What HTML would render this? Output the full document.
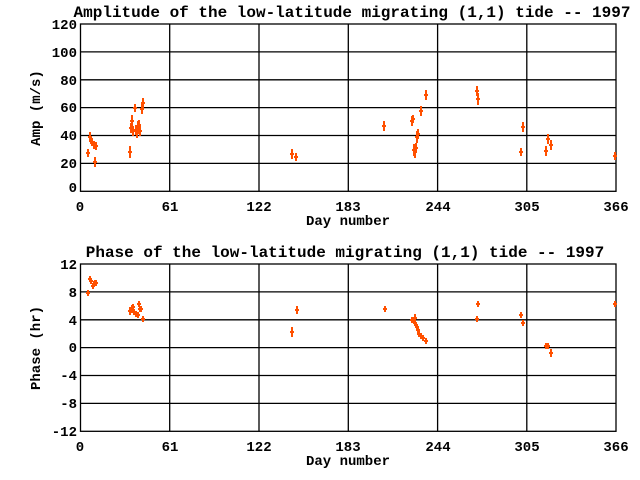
<!DOCTYPE html>
<html><head><style>body{margin:0;background:#fff}svg{display:block}text{font-family:"Liberation Mono",monospace;font-weight:bold;fill:#000}</style></head><body>
<svg width="640" height="480" xmlns="http://www.w3.org/2000/svg">
<g stroke="#000" stroke-width="1.3" fill="none">
<rect x="80.5" y="24" width="535.5" height="167.3"/>
<path d="M80.5 51.9H616M80.5 79.8H616M80.5 107.6H616M80.5 135.5H616M80.5 163.4H616M169.7 24V191.3M259 24V191.3M348.3 24V191.3M437.6 24V191.3M526.8 24V191.3"/>
<rect x="80.5" y="264" width="535.5" height="167.3"/>
<path d="M80.5 291.9H616M80.5 319.8H616M80.5 347.6H616M80.5 375.5H616M80.5 403.4H616M169.7 264V431.3M259 264V431.3M348.3 264V431.3M437.6 264V431.3M526.8 264V431.3"/>
</g>
<g font-size="16"><text x="352" y="17" text-anchor="middle">Amplitude of the low-latitude migrating (1,1) tide -- 1997</text>
<text x="345" y="257" text-anchor="middle">Phase of the low-latitude migrating (1,1) tide -- 1997</text></g>
<g font-size="14" text-anchor="end">
<text x="77" y="29">120</text><text x="77" y="57">100</text><text x="77" y="85">80</text><text x="77" y="112">60</text><text x="77" y="140">40</text><text x="77" y="168">20</text><text x="77" y="192">0</text>
<text x="77" y="269">12</text><text x="77" y="297">8</text><text x="77" y="325">4</text><text x="77" y="352">0</text><text x="77" y="380">-4</text><text x="77" y="408">-8</text><text x="77" y="436">-12</text>
</g>
<g font-size="14" text-anchor="middle">
<text x="80" y="211">0</text><text x="170" y="211">61</text><text x="259" y="211">122</text><text x="348" y="211">183</text><text x="438" y="211">244</text><text x="527" y="211">305</text><text x="616" y="211">366</text>
<text x="80" y="451">0</text><text x="170" y="451">61</text><text x="259" y="451">122</text><text x="348" y="451">183</text><text x="438" y="451">244</text><text x="527" y="451">305</text><text x="616" y="451">366</text>
<text x="348" y="225">Day number</text><text x="348" y="465">Day number</text>
<text transform="translate(40,108) rotate(-90)">Amp (m/s)</text>
<text transform="translate(40,348) rotate(-90)">Phase (hr)</text>
</g>
<g stroke="#ff5000" stroke-width="2" fill="none">
<path d="M86 153h4M88 149v8 M88 137h4M90 132v10 M89 140h4M91 136v8 M90 142h4M92 138v8 M92 145h4M94 141v8 M93 162h4M95 157v10 M94 146h4M96 142v8
M128 152h4M130 146v12 M129 128h4M131 123v10 M130 121h4M132 115v12 M131 131h4M133 126v10 M133 108h4M135 104v8 M134 130h4M136 125v10 M135 133h4M137 128v10 M136 126h4M138 121v10 M137 125h4M139 120v10 M138 131h4M140 126v10 M140 109h4M142 104v10 M141 103h4M143 98v10
M290 154h4M292 149v10 M294 157h4M296 153v8 M382 126h4M384 121v10
M410 121h4M412 116v10 M411 119h4M413 115v8 M412 150h4M414 144v12 M413 152h4M415 146v12 M414 148h4M416 143v10 M415 137h4M417 131v12 M416 134h4M418 129v10 M419 111h4M421 106v10 M424 95h4M426 90v10
M475 91h4M477 86v10 M476 99h4M478 93v12 M519 152h4M521 148v8 M521 127h4M523 122v10 M544 151h4M546 146v10 M546 139h4M548 134v10 M549 145h4M551 140v10 M613 156h4M615 152v8"/>
<path d="M86 293h4M88 290v6 M88 279h4M90 276v6 M89 281h4M91 278v6 M91 286h4M93 283v6 M93 283h4M95 280v6 M94 283h4M96 280v6 M92 284h4M94 281v6
M128 311h4M130 307v8 M129 310h4M131 307v6 M130 308h4M132 305v6 M131 307h4M133 304v6 M132 312h4M134 309v6 M134 314h4M136 311v6 M136 315h4M138 312v6 M137 304h4M139 301v6 M138 309h4M140 306v6 M139 309h4M141 306v6 M141 319h4M143 316v6
M290 332h4M292 327v10 M295 310h4M297 306v8 M383 309h4M385 306v6
M410 320h4M412 317v6 M412 321h4M414 318v6 M413 318h4M415 314v8 M414 325h4M416 322v6 M415 327h4M417 324v6 M416 330h4M418 327v6 M417 334h4M419 331v6 M419 336h4M421 333v6 M421 338h4M423 335v6 M424 341h4M426 338v6
M475 319h4M477 316v6 M476 304h4M478 301v6 M519 315h4M521 312v6 M521 323h4M523 320v6 M544 346h4M546 343v6 M546 346h4M548 343v6 M549 353h4M551 349v8 M613 304h4M615 301v6"/>
</g>
</svg>
</body></html>
